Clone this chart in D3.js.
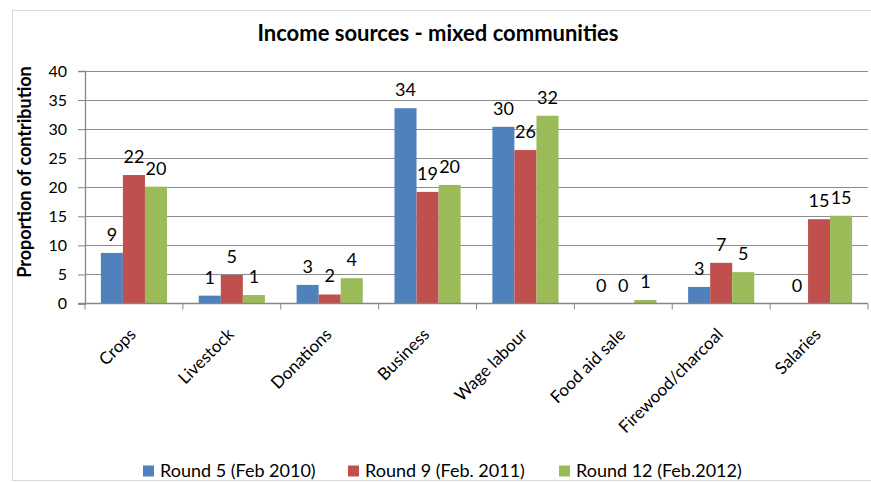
<!DOCTYPE html>
<html>
<head>
<meta charset="utf-8">
<script src="https://cdn.jsdelivr.net/npm/d3@7"></script>
<style>
  html, body { margin: 0; padding: 0; background: #fff; }
  svg { display: block; }
  text { font-family: Lato, "Open Sans", sans-serif; fill: #000; }
</style>
</head>
<body>
<svg id="chart" width="871" height="483"></svg>
<script>
// Income source categories
const categories = ["Crops", "Livestock", "Donations", "Business", "Wage labour",
                    "Food aid sale", "Firewood/charcoal", "Salaries"];

// Survey rounds (legend labels)
const seriesNames = ["Round 5 (Feb 2010)", "Round 9 (Feb. 2011)", "Round 12 (Feb.2012)"];

// Proportion of contribution per round, one value per category
const round5  = [8.7, 1.35, 3.2, 33.6, 30.4, 0, 2.85, 0];
const round9  = [22.1, 4.9, 1.55, 19.2, 26.4, 0, 7.0, 14.5];
const round12 = [20.1, 1.45, 4.35, 20.4, 32.3, 0.6, 5.4, 15.1];

// Y axis tick values
const yTicks = [0, 5, 10, 15, 20, 25, 30, 35, 40];

const colors = ["#4F81BD", "#C0504D", "#9BBB59"];
const seriesValues = [round5, round9, round12];

const svg = d3.select("#chart");

// outer chart frame
svg.append("rect")
  .attr("x", 12.5).attr("y", 10.5)
  .attr("width", 880).attr("height", 470)
  .attr("fill", "none").attr("stroke", "#d9d9d9");

const plot = { left: 85, right: 868, top: 71, bottom: 303.5 };

const x = d3.scaleBand()
  .domain(categories)
  .range([plot.left, plot.right])
  .paddingInner(0).paddingOuter(0);

const inner = d3.scaleBand()
  .domain(d3.range(seriesNames.length))
  .range([0, x.bandwidth()])
  .paddingInner(0)
  .paddingOuter(0.72);

const y = d3.scaleLinear().domain([0, 40]).range([plot.bottom, plot.top]);

// horizontal gridlines
svg.append("g")
  .selectAll("line")
  .data(yTicks.filter(d => d > 0))
  .join("line")
  .attr("x1", plot.left).attr("x2", plot.right)
  .attr("y1", d => Math.round(y(d)) + 0.5).attr("y2", d => Math.round(y(d)) + 0.5)
  .attr("stroke", "#8c8c8c").attr("stroke-width", 1);

// y axis
const yAxis = svg.append("g")
  .attr("transform", `translate(${plot.left},0)`)
  .call(d3.axisLeft(y).tickValues(yTicks).tickSize(7).tickPadding(11).tickFormat(d3.format("d")));
yAxis.select(".domain").attr("stroke", "#868686").attr("stroke-width", 1.3);
yAxis.selectAll(".tick line").attr("stroke", "#868686");
yAxis.selectAll(".tick text")
  .style("font-family", "Lato, sans-serif").style("font-size", "16px").attr("fill", "#000");

// bars
const groups = svg.append("g")
  .selectAll("g")
  .data(seriesValues)
  .join("g")
  .attr("fill", (d, i) => colors[i]);

groups.each(function (vals, si) {
  d3.select(this).selectAll("rect")
    .data(vals.map((v, ci) => ({ v, c: categories[ci] })))
    .join("rect")
    .attr("x", d => x(d.c) + inner(si))
    .attr("width", inner.bandwidth())
    .attr("y", d => y(d.v))
    .attr("height", d => y(0) - y(d.v));
});

// value labels
const fmt = d3.format(".0f");
seriesValues.forEach((vals, si) => {
  svg.append("g")
    .selectAll("text")
    .data(vals.map((v, ci) => ({ v, c: categories[ci] })))
    .join("text")
    .attr("x", d => x(d.c) + inner(si) + inner.bandwidth() / 2)
    .attr("y", d => y(d.v) - 12)
    .attr("text-anchor", "middle")
    .style("font-size", "18px")
    .text(d => fmt(d.v));
});

// x axis
const xAxis = svg.append("g")
  .attr("transform", `translate(0,${plot.bottom})`);
xAxis.append("line")
  .attr("x1", plot.left - 7).attr("x2", plot.right)
  .attr("y1", 0).attr("y2", 0)
  .attr("stroke", "#868686").attr("stroke-width", 1.5);
xAxis.selectAll("line.tick")
  .data(d3.range(categories.length + 1))
  .join("line")
  .attr("class", "tick")
  .attr("x1", i => plot.left + i * x.bandwidth()).attr("x2", i => plot.left + i * x.bandwidth())
  .attr("y1", 0).attr("y2", 6)
  .attr("stroke", "#868686");
xAxis.selectAll("text")
  .data(categories)
  .join("text")
  .attr("transform", d => `translate(${x(d) + x.bandwidth() / 2 + 3},${32}) rotate(-45)`)
  .attr("text-anchor", "end")
  .style("font-size", "17px")
  .text(d => d);

// title
svg.append("text")
  .attr("x", 438).attr("y", 41)
  .attr("text-anchor", "middle")
  .style("font-size", "22px").style("font-weight", "bold")
  .text("Income sources - mixed communities");

// y axis title
svg.append("text")
  .attr("transform", "translate(31,172) rotate(-90)")
  .attr("text-anchor", "middle")
  .style("font-size", "18px").style("font-weight", "bold")
  .text("Proportion of contribution");

// legend
const legendX = [143, 348, 559];
const legend = svg.append("g");
seriesNames.forEach((name, i) => {
  legend.append("rect")
    .attr("x", legendX[i]).attr("y", 465.5)
    .attr("width", 11).attr("height", 11)
    .attr("fill", colors[i]);
  legend.append("text")
    .attr("x", legendX[i] + 17).attr("y", 477)
    .style("font-size", "18px")
    .text(name);
});
</script>
</body>
</html>
